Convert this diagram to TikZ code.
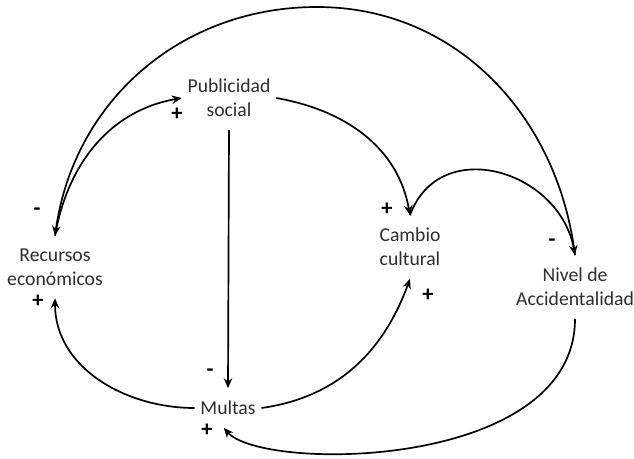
\documentclass[tikz,border=0pt]{standalone}
\usepackage{fontspec}
\setmainfont{Carlito}
\usepackage{tikz}
\usetikzlibrary{positioning,arrows.meta,calc}
\definecolor{labelcolor}{RGB}{45, 45, 50}
\tikzset{
    factor/.style={align=center, inner xsep=4pt, inner ysep=9pt, text=labelcolor,
        font=\fontsize{14}{17}\selectfont},
    causal arrow/.style={-{Stealth[length=7pt, width=6pt]}, line width=1.2pt, black},
    polarity/.style={inner sep=0pt, font=\fontsize{16}{16}\selectfont\bfseries, black}
}
\begin{document}
\begin{tikzpicture}
    \useasboundingbox (0,0) rectangle (15.85,11.45);

    % Variables
    \node[factor] (pub) at (5.725,9.0) {Publicidad\\social};
    \node[factor] (rec) at (1.375,4.775) {Recursos\\económicos};
    \node[factor] (cam) at (10.25,5.275) {Cambio\\cultural};
    \node[factor] (niv) at (14.375,4.275) {Nivel de\\Accidentalidad};
    \node[factor] (mul) at (5.7,1.25) {Multas};
    \coordinate (arctop) at (7.925,11.275);

    % Causal links
    \draw[causal arrow] (rec.north) to[out=80, in=190] (pub.west);
    \draw[causal arrow] (niv.north) to[out=97, in=0] (arctop) to[out=180, in=82] (rec.north);
    \draw[causal arrow] (pub.east) to[out=-10, in=100] (cam.north);
    \draw[causal arrow] (cam.north) to[out=70, in=100, looseness=1.3] (niv.north);
    \draw[causal arrow] (pub.south) -- (mul.north);
    \draw[causal arrow] (mul.west) to[out=180, in=-90] (rec.south);
    \draw[causal arrow] (mul.east) to[out=8, in=-110] (cam.south);
    \draw[causal arrow] (niv.south) .. controls +(0,-3.8) and +(0.95,-1.1) .. ([xshift=-3pt]mul.south);

    % Polarities
    \node[polarity] (p1) at (4.425,8.6) {+};
    \node[polarity] (p2) at (0.925,6.15) {-};
    \node[polarity] (p3) at (0.95,3.925) {+};
    \node[polarity] (p4) at (9.675,6.225) {+};
    \node[polarity] (p5) at (10.7,4.075) {+};
    \node[polarity] (p6) at (13.8,5.375) {-};
    \node[polarity] (p7) at (5.25,2.125) {-};
    \node[polarity] (p8) at (5.175,0.7) {+};
\end{tikzpicture}
\end{document}
